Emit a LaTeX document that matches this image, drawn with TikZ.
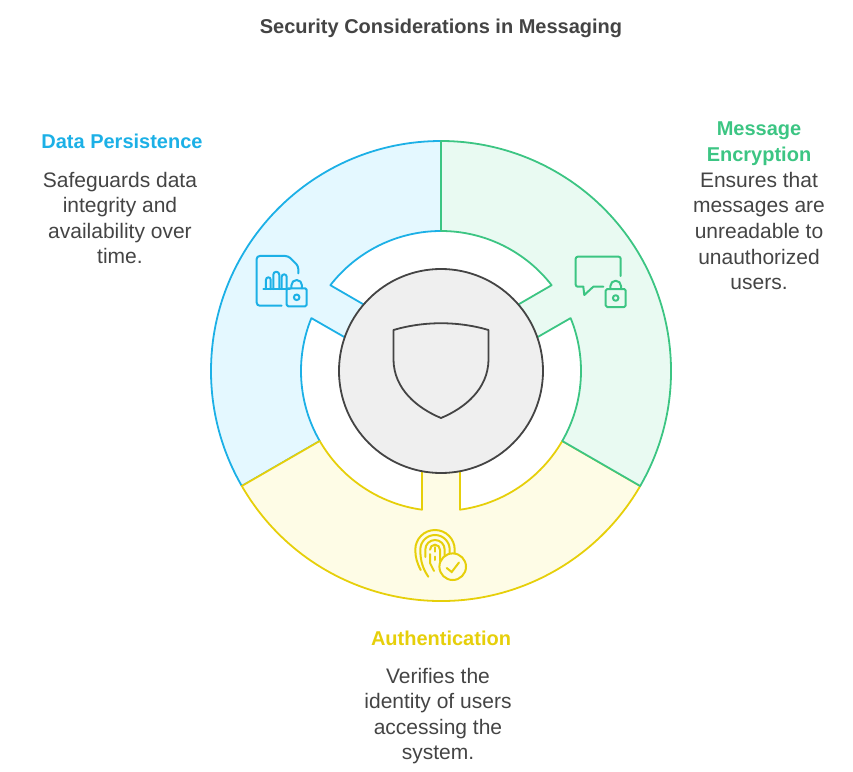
\documentclass[tikz,border=0pt]{standalone}
\usepackage{fontspec}
\setmainfont{Liberation Sans}
\usepackage{xcolor}
\definecolor{ink}{HTML}{444444}
\definecolor{hubfill}{HTML}{EFEFEF}
\definecolor{datablue}{HTML}{1CB0E6}
\definecolor{datafill}{HTML}{E4F8FF}
\definecolor{cryptgreen}{HTML}{3CC583}
\definecolor{cryptfill}{HTML}{E9FAF2}
\definecolor{authyellow}{HTML}{E6CF0A}
\definecolor{authfill}{HTML}{FEFCE6}
\tikzset{
  headtext/.style={align=center, font=\fontsize{20}{25.4}\selectfont\bfseries},
  bodytext/.style={align=center, text=ink, font=\fontsize{21}{25.6}\selectfont},
  lockicon/.pic={
    \draw[rounded corners=1.5pt] (-10,-9) rectangle (10,9);
    \draw (-5.3,9) -- (-5.3,12) arc[start angle=180,end angle=0,radius=5.3] -- (5.3,9);
    \draw (0,0) circle (2.8);
  }
}
\begin{document}
\begin{tikzpicture}[x=1pt,y=1pt,line width=1.8pt]
    \useasboundingbox (-441,-400) rectangle (412,371);
    \foreach \segcol/\segfill/\a in {datablue/datafill/210,authyellow/authfill/330,cryptgreen/cryptfill/90} {
      \draw[\segcol, fill=\segfill, line join=round] (\a:230) -- (\a:140)
        arc[start angle=\a, end angle=\a-52.2, radius=140]
        -- (\a-49.3:102) -- (\a-70.7:102) -- (\a-67.8:140)
        arc[start angle=\a-67.8, end angle=\a-120, radius=140]
        -- (\a-120:230) arc[start angle=\a-120, end angle=\a, radius=230] -- cycle;
    }
    \node[circle, draw=ink, fill=hubfill, minimum size=204pt, inner sep=0pt] (hub) at (0,0) {};
    % shield
    \draw[ink, line join=round] (-47.5,41) .. controls (-17,50) and (17,50) .. (47.5,41) -- (47.5,11)
      .. controls (47,-18) and (24,-37) .. (0,-47) .. controls (-24,-37) and (-47,-18) .. (-47.5,11) -- cycle;
    % data icon
    \begin{scope}[datablue, line width=2pt, line cap=round, line join=round]
      \draw[rounded corners=3pt] (-159.3,65.3) -- (-184.3,65.3) -- (-184.3,115) -- (-152.7,115) -- (-142.7,105) -- (-142.7,97.7);
      \draw (-177.7,82) -- (-151,82);
      \draw (-175,82) -- (-175,91.3) arc[start angle=180,end angle=0,radius=2.35] -- (-170.3,82);
      \draw (-167.7,82) -- (-167.7,96.3) arc[start angle=180,end angle=0,radius=3] -- (-161.7,82);
      \draw (-159.3,82) -- (-159.3,94.2) arc[start angle=180,end angle=0,radius=2.5] -- (-154.3,82);
      \pic at (-144.3,73.7) {lockicon};
    \end{scope}
    % encryption icon
    \begin{scope}[cryptgreen, line width=2pt, line cap=round, line join=round]
      \draw[rounded corners=2pt] (179.7,95) -- (179.7,114.3) -- (134.7,114.3) -- (134.7,84.3) -- (142.3,84.3);
      \draw (142.3,84.3) -- (143.3,76) -- (152.3,84.3) -- (162.3,84.3);
      \pic at (174.7,73) {lockicon};
    \end{scope}
    % fingerprint icon
    \begin{scope}[authyellow, line width=2pt, line cap=round]
      \draw (-20.3,-199) .. controls (-24,-192) and (-25.7,-186) .. (-25.7,-178.7)
        arc[start angle=180,end angle=0,radius=19.7] -- (13.7,-183.3);
      \draw (-12.7,-205.7) .. controls (-18,-198) and (-20.7,-190) .. (-20.7,-178.7)
        arc[start angle=180,end angle=0,radius=14.7] -- (8.7,-186);
      \draw (-15.7,-186) -- (-15.7,-178.7) arc[start angle=180,end angle=0,radius=9.7] -- (3.7,-194);
      \draw (-11,-178.7) arc[start angle=180,end angle=0,radius=5] -- (-1,-190);
      \draw (-11,-183) -- (-11,-192) -- (-7,-200);
      \draw (-6,-176) -- (-6,-180.7);
      \draw (-6,-185.7) -- (-6,-189);
      \draw[fill=authfill] (11.7,-195.7) circle (13.3);
      \draw (5.7,-197) -- (10.7,-201) -- (18,-191.5);
    \end{scope}
    \node[headtext, text=ink] (title) at (0,342.5) {Security Considerations in Messaging};
    \node[headtext, text=datablue] (datahead) at (-319,230) {Data Persistence};
    \node[bodytext] (databody) at (-321,153) {Safeguards data\\integrity and\\availability over\\time.};
    \node[headtext, text=cryptgreen] (crypthead) at (318,227.5) {Message\\Encryption};
    \node[bodytext] (cryptbody) at (318,140) {Ensures that\\messages are\\unreadable to\\unauthorized\\users.};
    \node[headtext, text=authyellow] (authhead) at (0,-267) {Authentication};
    \node[bodytext] (authbody) at (-3,-345) {Verifies the\\identity of users\\accessing the\\system.};
\end{tikzpicture}
\end{document}
